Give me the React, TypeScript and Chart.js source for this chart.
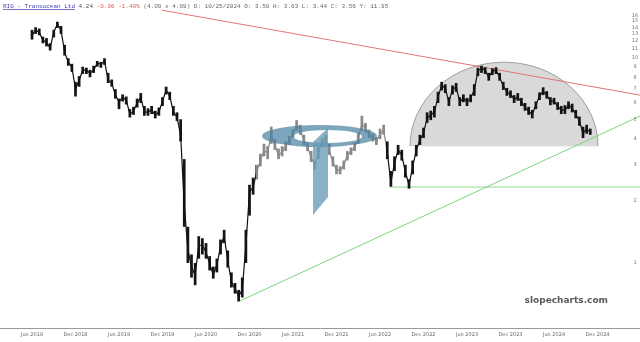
import React, { useEffect, useRef } from "react";
import { Chart, registerables } from "chart.js";
Chart.register(...registerables);

// x values are months since Jan 2018; one bar every half month, starting Jun 2018
const FIRST_MONTH = 5;
const MONTH_STEP = 0.5;

const CLOSE = [
  12.8, 13.55, 13.25, 12.1, 11.85, 11.1, 13.25, 14.5, 13.55, 10.6,
  9.47, 8.96, 7.0, 7.74, 8.66, 8.66, 8.38, 8.66, 9.37, 9.26,
  9.58, 7.74, 7.49, 6.55, 6.06, 6.4, 6.19, 5.29, 5.47, 5.99,
  6.4, 5.42, 5.42, 5.54, 5.24, 5.42, 6.12, 6.93, 6.48, 5.42,
  5.12, 4.19, 1.91, 1.16, 0.96, 0.87, 1.22, 1.22, 1.13, 0.99,
  0.88, 0.98, 1.2, 1.35, 1.03, 0.81, 0.75, 0.69, 0.74, 1.22,
  2.21, 2.34, 2.77, 3.17, 3.5, 3.46, 4.19, 3.74, 3.35, 3.46,
  3.7, 3.96, 4.28, 4.68, 4.48, 3.92, 3.66, 3.27, 2.99, 3.46,
  3.87, 4.0, 3.5, 3.1, 2.83, 2.83, 2.99, 3.35, 3.5, 3.66,
  4.0, 4.73, 4.53, 4.23, 4.05, 3.92, 4.23, 4.43, 3.46, 2.47,
  3.06, 3.54, 3.35, 2.77, 2.39, 2.93, 3.54, 3.96, 4.28, 5.06,
  5.24, 5.42, 6.4, 7.32, 7.08, 6.06, 7.0, 7.16, 6.06, 6.33,
  6.06, 6.33, 6.93, 8.57, 8.86, 8.66, 8.01, 8.57, 8.66, 8.01,
  7.24, 6.77, 6.62, 6.26, 6.4, 6.06, 5.73, 5.47, 5.29, 5.86,
  6.48, 6.85, 6.55, 6.12, 6.12, 5.79, 5.54, 5.54, 5.86, 5.66,
  5.29, 4.9, 4.28, 4.48, 4.33,
];

const HIGH = [
  13.6, 14.0, 13.8, 12.6, 12.4, 11.7, 13.6, 14.9, 14.2, 11.5,
  9.9, 9.3, 7.6, 8.1, 9.0, 8.9, 8.7, 9.1, 9.6, 9.5,
  9.9, 8.4, 7.8, 7.0, 6.3, 6.6, 6.45, 5.6, 5.75, 6.3,
  6.7, 5.8, 5.65, 5.8, 5.5, 5.7, 6.4, 7.2, 6.8, 5.8,
  5.4, 5.0, 3.2, 1.5, 1.1, 1.0, 1.35, 1.32, 1.25, 1.08,
  0.96, 1.05, 1.3, 1.45, 1.15, 0.9, 0.8, 0.74, 0.85, 1.45,
  2.4, 2.6, 3.0, 3.4, 3.8, 3.7, 4.6, 4.0, 3.6, 3.7,
  3.9, 4.15, 4.45, 4.95, 4.7, 4.2, 3.85, 3.5, 3.15, 3.65,
  4.05, 4.2, 3.8, 3.3, 3.0, 2.95, 3.15, 3.5, 3.65, 3.85,
  4.3, 5.2, 4.8, 4.45, 4.25, 4.1, 4.5, 4.7, 3.9, 2.8,
  3.3, 3.75, 3.55, 3.0, 2.55, 3.15, 3.75, 4.2, 4.55, 5.4,
  5.5, 5.8, 6.8, 7.6, 7.4, 6.4, 7.3, 7.5, 6.4, 6.6,
  6.35, 6.6, 7.4, 8.9, 9.1, 8.95, 8.4, 8.85, 8.95, 8.4,
  7.6, 7.1, 6.9, 6.55, 6.7, 6.35, 6.0, 5.75, 5.55, 6.1,
  6.75, 7.15, 6.85, 6.4, 6.35, 6.05, 5.8, 5.85, 6.1, 5.95,
  5.55, 5.15, 4.6, 4.7, 4.5,
];

const LOW = [
  12.2, 13.0, 12.8, 11.7, 11.3, 10.8, 12.5, 13.9, 13.0, 10.2,
  9.1, 8.5, 6.45, 7.2, 8.3, 8.3, 8.0, 8.4, 9.0, 8.9,
  9.2, 7.5, 7.2, 6.3, 5.6, 6.1, 5.9, 5.1, 5.25, 5.7,
  6.0, 5.2, 5.2, 5.3, 5.05, 5.2, 5.8, 6.6, 6.2, 5.2,
  4.9, 3.9, 1.5, 1.0, 0.85, 0.78, 1.05, 1.1, 1.05, 0.92,
  0.84, 0.9, 1.1, 1.25, 0.95, 0.76, 0.71, 0.65, 0.68, 1.0,
  1.7, 2.15, 2.55, 2.95, 3.3, 3.2, 3.8, 3.55, 3.2, 3.3,
  3.5, 3.75, 4.05, 4.4, 4.2, 3.75, 3.5, 3.1, 2.85, 3.2,
  3.65, 3.8, 3.35, 2.95, 2.7, 2.7, 2.85, 3.15, 3.35, 3.5,
  3.8, 4.4, 4.3, 4.05, 3.9, 3.75, 4.0, 4.2, 3.2, 2.35,
  2.8, 3.35, 3.15, 2.6, 2.3, 2.7, 3.3, 3.75, 4.05, 4.8,
  4.95, 5.1, 6.0, 6.9, 6.7, 5.8, 6.6, 6.8, 5.8, 6.05,
  5.8, 6.05, 6.5, 8.1, 8.4, 8.3, 7.7, 8.2, 8.3, 7.7,
  6.95, 6.5, 6.35, 6.0, 6.15, 5.8, 5.5, 5.25, 5.05, 5.6,
  6.2, 6.55, 6.3, 5.85, 5.9, 5.55, 5.3, 5.3, 5.6, 5.4,
  5.05, 4.65, 4.05, 4.25, 4.2,
];

const X_TICK_MONTHS = [5, 11, 17, 23, 29, 35, 41, 47, 53, 59, 65, 71, 77, 83];
const X_TICK_LABELS = [
  "Jun 2018", "Dec 2018", "Jun 2019", "Dec 2019", "Jun 2020", "Dec 2020", "Jun 2021",
  "Dec 2021", "Jun 2022", "Dec 2022", "Jun 2023", "Dec 2023", "Jun 2024", "Dec 2024",
];
const Y_TICKS = [1, 2, 3, 4, 5, 6, 7, 8, 9, 10, 11, 12, 13, 14, 15, 16];

// trend lines: [start, end]
const RESIST_MONTHS = [22.93, 88.86];
const RESIST_VALUES = [16.95, 6.55];
const SUPPORT_MONTHS = [33.69, 88.86];
const SUPPORT_VALUES = [0.654, 5.18];
const FLOOR_MONTHS = [54.38, 88.86];
const FLOOR_VALUES = [2.34, 2.34];
// dome: [left, right] months, [base, top] values
const DOME_MONTHS = [57.14, 83.07];
const DOME_VALUES = [3.7, 9.47];

const HEADER_PARTS = [
  { text: "RIG - Transocean Ltd", color: "#3a3ab4", underline: true },
  { text: " 4.24", color: "#555" },
  { text: " -0.06 -1.40%", color: "#d85a5a" },
  { text: " (4.09 x 4.09) D: 10/25/2024 O: 3.50 H: 3.63 L: 3.44 C: 3.56 Y: 11.95", color: "#666" },
];

const domePlugin = {
  id: "dome",
  beforeDatasetsDraw(chart: any) {
    const { ctx, scales } = chart;
    const xs = scales.x, ys = scales.y;
    const x0 = xs.getPixelForValue(DOME_MONTHS[0]);
    const x1 = xs.getPixelForValue(DOME_MONTHS[1]);
    const yb = ys.getPixelForValue(DOME_VALUES[0]);
    const yt = ys.getPixelForValue(DOME_VALUES[1]);
    ctx.save();
    ctx.beginPath();
    ctx.ellipse((x0 + x1) / 2, yb, (x1 - x0) / 2, yb - yt, 0, Math.PI, 2 * Math.PI);
    ctx.closePath();
    ctx.fillStyle = "rgba(210,210,210,0.85)";
    ctx.fill();
    ctx.beginPath();
    ctx.ellipse((x0 + x1) / 2, yb, (x1 - x0) / 2, yb - yt, 0, Math.PI, 2 * Math.PI);
    ctx.strokeStyle = "#8c8c8c";
    ctx.lineWidth = 0.8;
    ctx.stroke();
    ctx.restore();
  },
};

const overlayPlugin = {
  id: "overlay",
  afterDatasetsDraw(chart: any) {
    const { ctx } = chart;
    ctx.save();
    // watermark
    ctx.fillStyle = "rgba(255,255,255,0.5)";
    ctx.fillRect(256, 100, 130, 116);
    ctx.beginPath();
    ctx.ellipse(319.5, 136, 57.5, 11, 0, 0, 2 * Math.PI);
    ctx.moveTo(327.5 + 34.5, 136.5);
    ctx.ellipse(327.5, 136.5, 34.5, 6.5, 0, 0, 2 * Math.PI);
    ctx.fillStyle = "rgba(75,132,162,0.72)";
    ctx.fill("evenodd");
    ctx.beginPath();
    ctx.moveTo(313, 142);
    ctx.lineTo(328, 128);
    ctx.lineTo(328, 197);
    ctx.lineTo(313, 215);
    ctx.closePath();
    ctx.fillStyle = "rgba(105,155,182,0.78)";
    ctx.fill();
    ctx.restore();
  },
  afterDraw(chart: any) {
    const { ctx, scales } = chart;
    ctx.save();
    // y tick labels
    ctx.font = '5px "DejaVu Sans"';
    ctx.fillStyle = "#777";
    ctx.textAlign = "center";
    ctx.textBaseline = "middle";
    Y_TICKS.forEach((v) => {
      ctx.fillText(String(v), 635, scales.y.getPixelForValue(v));
    });
    // header
    ctx.font = '6px "Liberation Mono"';
    ctx.textAlign = "left";
    ctx.textBaseline = "alphabetic";
    let x = 3;
    HEADER_PARTS.forEach((p) => {
      ctx.fillStyle = p.color;
      ctx.fillText(p.text, x, 8);
      const w = ctx.measureText(p.text).width;
      if (p.underline) {
        ctx.fillRect(x, 9, w, 0.7);
      }
      x += w;
    });
    // site name
    ctx.font = 'bold 9px "DejaVu Sans"';
    ctx.fillStyle = "#5a5a5a";
    ctx.textAlign = "right";
    ctx.fillText("slopecharts.com", 608, 303);
    ctx.restore();
  },
};

export default function App() {
  const ref = useRef<HTMLCanvasElement | null>(null);
  useEffect(() => {
    document.body.style.margin = "0";
    const xOf = (i: number) => FIRST_MONTH + i * MONTH_STEP;
    const line = (ms: number[], vs: number[], color: string) => ({
      type: "line" as const,
      data: ms.map((m, i) => ({ x: m, y: vs[i] })),
      borderColor: color,
      borderWidth: 1,
      pointRadius: 0,
      order: 2,
    });
    const chart = new Chart(ref.current as HTMLCanvasElement, {
      type: "bar",
      data: {
        datasets: [
          {
            type: "line",
            data: CLOSE.map((c, i) => ({ x: xOf(i), y: c })),
            borderColor: "#111",
            borderWidth: 1.2,
            pointRadius: 0,
            order: 0,
          },
          {
            type: "bar",
            data: CLOSE.map((_, i) => ({ x: xOf(i), y: [LOW[i], HIGH[i]] })),
            backgroundColor: "#151515",
            barPercentage: 0.75,
            categoryPercentage: 1,
            order: 1,
          } as any,
          line(RESIST_MONTHS, RESIST_VALUES, "rgba(225,110,110,0.95)"),
          line(SUPPORT_MONTHS, SUPPORT_VALUES, "rgba(120,210,120,0.95)"),
          line(FLOOR_MONTHS, FLOOR_VALUES, "rgba(140,215,140,0.95)"),
        ] as any,
      },
      options: {
        animation: false,
        responsive: true,
        maintainAspectRatio: false,
        events: [],
        layout: { padding: 0 },
        plugins: { legend: { display: false }, tooltip: { enabled: false } },
        scales: {
          x: {
            type: "linear",
            offset: false,
            min: 0.586,
            max: 88.86,
            grid: { display: false, drawTicks: false, offset: false },
            border: { display: true, color: "#9a9a9a", width: 1 },
            afterBuildTicks: (s: any) => {
              s.ticks = X_TICK_MONTHS.map((v) => ({ value: v }));
            },
            afterFit: (s: any) => {
              s.height = 14;
              s.paddingLeft = 0;
              s.paddingRight = 0;
            },
            ticks: {
              autoSkip: false,
              maxRotation: 0,
              padding: 4,
              color: "#666",
              font: { size: 5, family: "DejaVu Sans" },
              callback: (_v: any, i: number) => X_TICK_LABELS[i],
            },
          },
          y: {
            type: "logarithmic",
            position: "right",
            min: 0.483,
            max: 19,
            display: false,
          },
        },
      },
      plugins: [domePlugin, overlayPlugin],
    });
    return () => chart.destroy();
  }, []);
  return (
    <div style={{ position: "relative", width: 640, height: 342 }}>
      <canvas ref={ref} />
    </div>
  );
}
